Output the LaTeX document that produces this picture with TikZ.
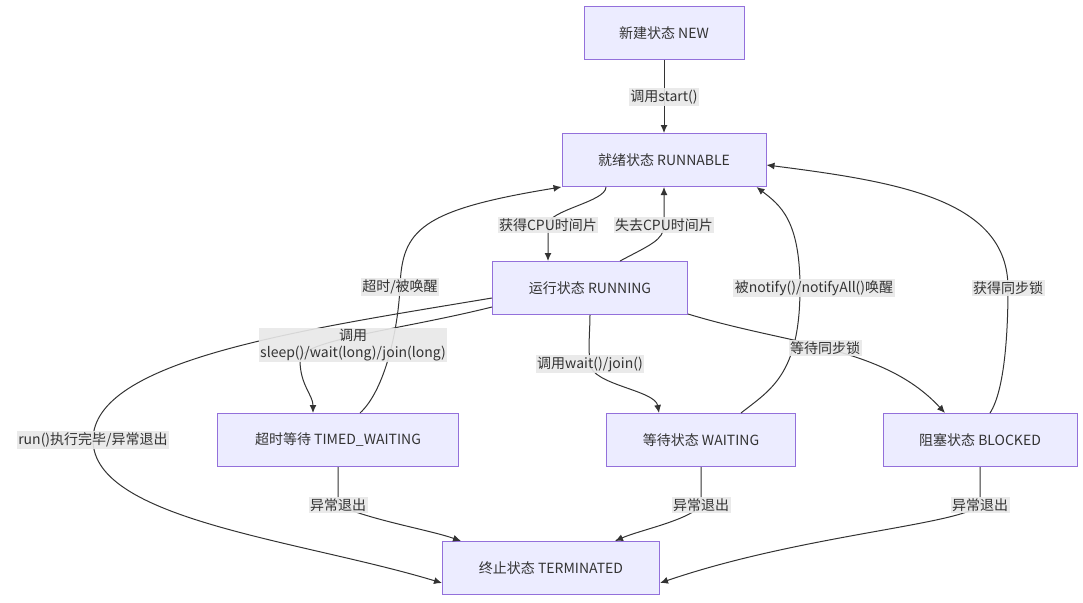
\documentclass[tikz,border=0pt]{standalone}
\usepackage{fontspec}
\setmainfont{Noto Sans CJK SC}
\usetikzlibrary{arrows.meta}
\definecolor{nfill}{HTML}{ECECFF}
\definecolor{nstroke}{HTML}{9370DB}
\definecolor{edge}{HTML}{333333}
\definecolor{lblbg}{HTML}{E8E8E8}
\begin{document}
\begin{tikzpicture}[x=1pt,y=-1pt,
 st/.style={draw=nstroke,fill=nfill,line width=1pt,minimum height=53pt,inner sep=0pt,font=\fontsize{14}{16}\selectfont,text=edge},
 e/.style={draw=edge,line width=1pt,-{Latex[length=8pt,width=7pt]}},
 lbl/.style={fill=lblbg,fill opacity=0.9,text opacity=1,inner sep=1.5pt,font=\fontsize{14}{17}\selectfont,text=edge,align=center}]
\useasboundingbox (0,0) rectangle (1083,602);
\node[st,minimum width=160pt] (new) at (664,33) {新建状态 NEW};
\node[st,minimum width=204pt] (rbl) at (664,160) {就绪状态 RUNNABLE};
\node[st,minimum width=195pt] (run) at (590,288) {运行状态 RUNNING};
\node[st,minimum width=241pt] (tw) at (338,440) {超时等待 TIMED\_WAITING};
\node[st,minimum width=189pt] (w) at (701,440) {等待状态 WAITING};
\node[st,minimum width=194pt] (b) at (980,440) {阻塞状态 BLOCKED};
\node[st,minimum width=217pt] (t) at (551,568) {终止状态 TERMINATED};

\coordinate (l1) at (664,97);
\coordinate (l2) at (548,225);
\coordinate (l3) at (664,225);
\coordinate (l4) at (300,360);
\coordinate (l5) at (400,287);
\coordinate (l6) at (590,364);
\coordinate (l7) at (800,288);
\coordinate (l8) at (825,348);
\coordinate (l9) at (1008,288);
\coordinate (l10) at (93,440);
\coordinate (l11) at (338,505);
\coordinate (l12) at (701,505);
\coordinate (l13) at (980,505);

\draw[e] (new) -- (rbl);
\draw[e] ([xshift=-58pt]rbl.south) .. controls +(0,15) and (548,210) .. (l2) -- (run.north -| l2);
\draw[e] ([xshift=30pt]run.north) .. controls (650,245) and (664,240) .. (l3) -- (rbl.south -| l3);
\draw[e] (run.south west) ++(0,-8) .. controls (400,330) and (300,340) .. (l4) .. controls (300,385) and (313,395) .. ([xshift=-25pt]tw.north);
\draw[e] ([xshift=22pt]tw.north) .. controls (385,390) and (398,330) .. (l5) .. controls (402,230) and (420,210) .. (rbl.south west);
\draw[e] (run.south) .. controls (590,330) and (588,345) .. (l6) .. controls (592,385) and (655,390) .. ([xshift=-42pt]w.north);
\draw[e] ([xshift=40pt]w.north) .. controls (770,390) and (800,375) .. (l7) .. controls (800,220) and (780,205) .. ([xshift=-10pt]rbl.south east);
\draw[e] ([yshift=1pt]run.south east) .. controls (740,330) and (800,340) .. (l8) .. controls (870,360) and (910,375) .. ([xshift=-35pt]b.north);
\draw[e] ([xshift=10pt]b.north) .. controls (1005,390) and (1008,330) .. (l9) .. controls (1008,200) and (900,182) .. ([yshift=-5pt]rbl.east);
\draw[e] ([yshift=-10pt]run.west) .. controls (300,330) and (93,360) .. (l10) .. controls (93,520) and (300,540) .. ([yshift=-15pt]t.west);
\draw[e] (tw.south) -- (l11) .. controls (370,520) and (430,530) .. ([xshift=-90pt]t.north);
\draw[e] (w.south) -- (l12) .. controls (690,520) and (640,530) .. ([xshift=64pt]t.north);
\draw[e] (b.south) -- (l13) .. controls (960,525) and (800,535) .. ([yshift=-15pt]t.east);

\node[lbl] at (l1) {调用start()};
\node[lbl] at (l2) {获得CPU时间片};
\node[lbl] at (l3) {失去CPU时间片};
\node[lbl] at (353,345) {调用\\sleep()/wait(long)/join(long)};
\node[lbl] at (l5) {超时/被唤醒};
\node[lbl] at (l6) {调用wait()/join()};
\node[lbl] at (814,288) {被notify()/notifyAll()唤醒};
\node[lbl] at (l8) {等待同步锁};
\node[lbl] at (l9) {获得同步锁};
\node[lbl] at (l10) {run()执行完毕/异常退出};
\node[lbl] at (l11) {异常退出};
\node[lbl] at (l12) {异常退出};
\node[lbl] at (l13) {异常退出};
\end{tikzpicture}
\end{document}
